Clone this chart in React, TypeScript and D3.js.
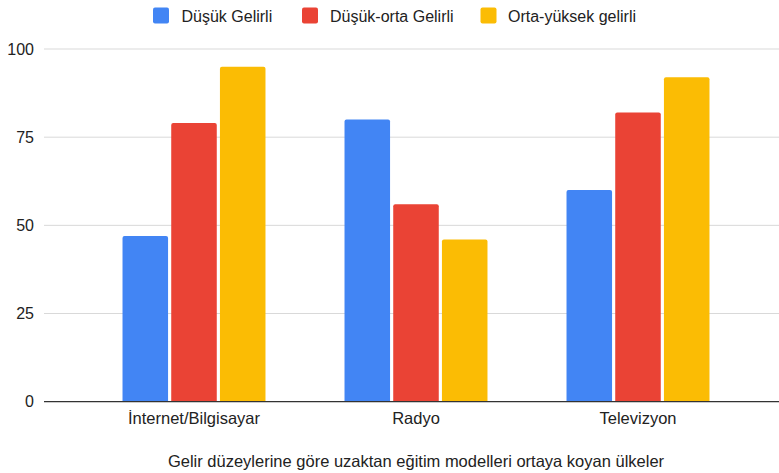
import React from "react";
import * as d3 from "d3";

const categories = ["İnternet/Bilgisayar", "Radyo", "Televizyon"];
const seriesNames = ["Düşük Gelirli", "Düşük-orta Gelirli", "Orta-yüksek gelirli"];
const lowIncome = [47, 80, 60];
const lowerMiddle = [79, 56, 82];
const upperMiddle = [95, 46, 92];
const yTicks = [0, 25, 50, 75, 100];
const colors = ["#4285F4", "#EA4335", "#FBBC04"];
const xTitle = "Gelir düzeylerine göre uzaktan eğitim modelleri ortaya koyan ülkeler";

const W = 779;
const H = 473;
const FONT = "'Liberation Sans', Arial, sans-serif";

export default function App() {
  const series = [lowIncome, lowerMiddle, upperMiddle];
  const y = d3.scaleLinear().domain([0, 100]).range([401.7, 49]);
  const x = d3
    .scaleBand<string>()
    .domain(categories)
    .range([83, 749])
    .paddingInner(0.356)
    .paddingOuter(0.178);
  const inner = d3
    .scaleBand<number>()
    .domain([0, 1, 2])
    .range([0, x.bandwidth()])
    .paddingInner(0.065);

  const legendItems = [
    { sq: 153, tx: 181.5 },
    { sq: 302, tx: 330 },
    { sq: 480.5, tx: 508 },
  ];

  return (
    <svg width={W} height={H} style={{ position: "absolute", left: 0, top: 0, background: "#fff" }} fontFamily={FONT}>
      {/* legend */}
      {seriesNames.map((n, i) => (
        <g key={n}>
          <rect x={legendItems[i].sq} y={7.5} width={16} height={16} rx={2} fill={colors[i]} />
          <text x={legendItems[i].tx} y={21.5} fontSize={16} fill="#222">
            {n}
          </text>
        </g>
      ))}
      {/* gridlines */}
      {yTicks.filter((t) => t !== 0).map((t) => (
        <line key={t} x1={44} x2={779} y1={y(t)} y2={y(t)} stroke="#d9d9d9" strokeWidth={1} />
      ))}
      {yTicks.map((t) => (
        <text key={t} x={34} y={y(t) + 5.5} fontSize={16} textAnchor="end" fill="#222">
          {t}
        </text>
      ))}
      {/* bars */}
      {categories.map((c, ci) => (
        <g key={c} transform={`translate(${x(c)},0)`}>
          {series.map((s, si) => (
            <path
              key={si}
              d={(() => {
                const x0 = inner(si)!;
                const w = inner.bandwidth();
                const top = y(s[ci]);
                const bot = y(0);
                const r = 2;
                return `M${x0},${bot}V${top + r}Q${x0},${top} ${x0 + r},${top}H${x0 + w - r}Q${x0 + w},${top} ${x0 + w},${top + r}V${bot}Z`;
              })()}
              fill={colors[si]}
            />
          ))}
        </g>
      ))}
      {/* baseline */}
      <line x1={44} x2={779} y1={y(0)} y2={y(0)} stroke="#333" strokeWidth={1.3} />
      {categories.map((c) => (
        <text key={c} x={x(c)! + x.bandwidth() / 2} y={423.5} fontSize={16.5} textAnchor="middle" fill="#222">
          {c}
        </text>
      ))}
      <text x={416} y={466.5} fontSize={16.5} textAnchor="middle" fill="#222">
        {xTitle}
      </text>
    </svg>
  );
}
